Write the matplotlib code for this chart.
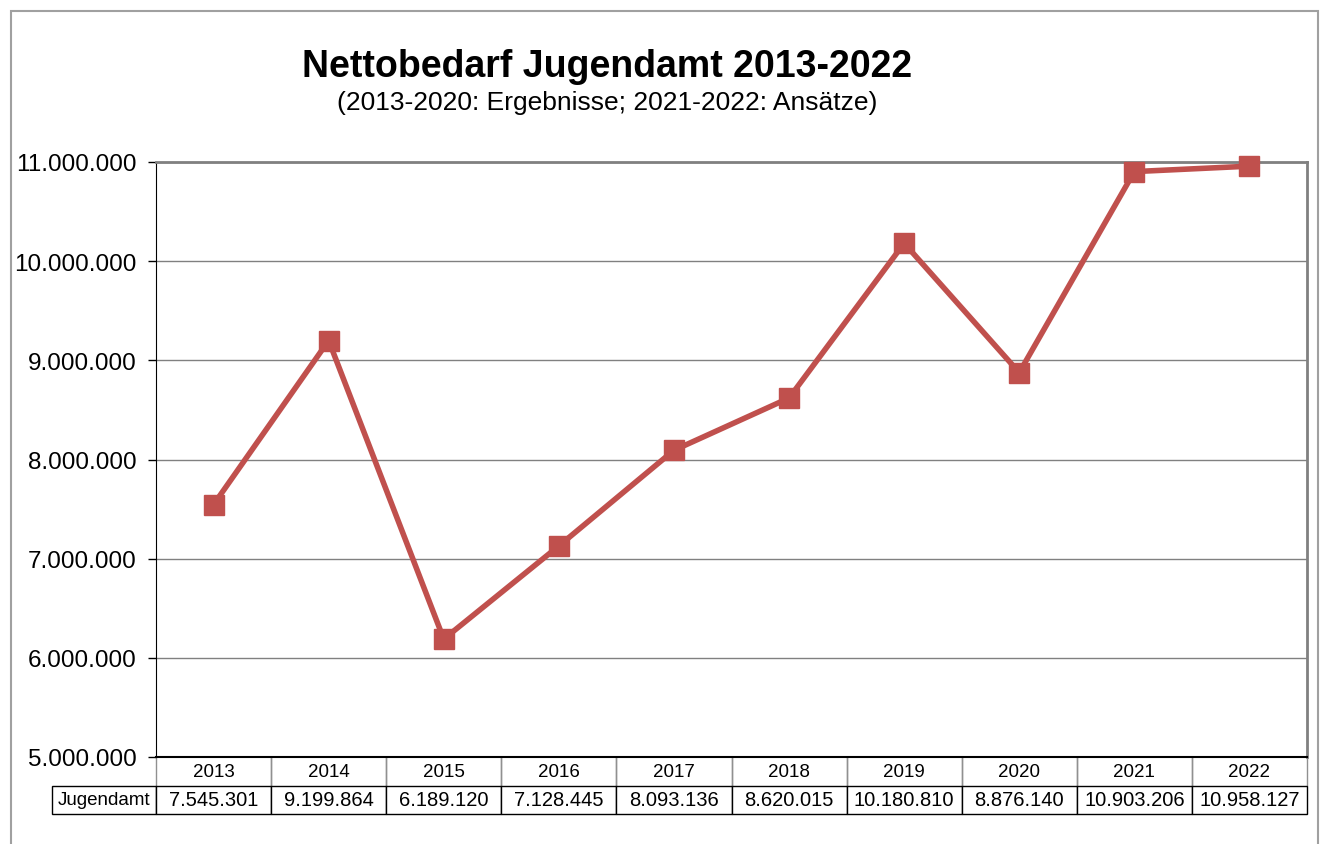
import matplotlib.pyplot as plt
from matplotlib.patches import Rectangle
from matplotlib.ticker import FuncFormatter

plt.rcParams['font.family'] = ['Liberation Sans', 'DejaVu Sans']

years = ["2013", "2014", "2015", "2016", "2017", "2018", "2019", "2020", "2021", "2022"]
jugendamt = [7545301, 9199864, 6189120, 7128445, 8093136, 8620015, 10180810, 8876140, 10903206, 10958127]
series_name = "Jugendamt"

W, H = 1323, 845
fig = plt.figure(figsize=(W / 100, H / 100), dpi=100)

# axes position in pixels
left, right, top, bottom = 156, 1307, 163, 758
ax = fig.add_axes([left / W, 1 - bottom / H, (right - left) / W, (bottom - top) / H])

red = "#C0504D"
x = list(range(len(years)))
ax.plot(x, jugendamt, color=red, linewidth=4, marker="s", markersize=14,
        markerfacecolor=red, markeredgecolor=red, zorder=5, clip_on=False)

ax.set_xlim(-0.5, len(years) - 0.5)
ax.set_ylim(5000000, 11000000)
ax.set_yticks(range(5000000, 11000001, 1000000))
ax.yaxis.set_major_formatter(FuncFormatter(lambda v, p: f"{int(v):,}".replace(",", ".")))
ax.tick_params(axis="y", labelsize=17.5, length=6, width=1, color="black", pad=8)
ax.set_xticks([])
ax.grid(axis="y", color="#808080", linewidth=1)
ax.set_axisbelow(True)

ax.spines["left"].set_color("black")
ax.spines["bottom"].set_color("black")
ax.spines["bottom"].set_linewidth(1.5)
ax.spines["top"].set_color("#808080")
ax.spines["top"].set_linewidth(2)
ax.spines["right"].set_color("#808080")
ax.spines["right"].set_linewidth(2)

# data table below the axes
fmt = lambda v: f"{v:,}".replace(",", ".")
cells = [[""] + years, [series_name] + [fmt(v) for v in jugendamt]]
axw = right - left
tab_left = 52
tab_h = 815 - bottom
lab_w = left - tab_left
tot_w = right - tab_left
col_w = [lab_w / tot_w] + [axw / 10 / tot_w] * 10
tbl = ax.table(cellText=cells, colWidths=col_w, cellLoc="center",
               bbox=[-(lab_w / axw), -(tab_h / (bottom - top)), tot_w / axw, tab_h / (bottom - top)])
tbl.auto_set_font_size(False)
for (r, c), cell in tbl.get_celld().items():
    cell.set_linewidth(1)
    if r == 0:
        cell.get_text().set_fontsize(13.5)
        cell.set_edgecolor("#909090")
        if c == 0:
            cell.visible_edges = ""
        else:
            cell.visible_edges = "LR"
    else:
        cell.get_text().set_fontsize(13.5 if c == 0 else 14.5)
        cell.set_edgecolor("black")

# titles
fig.text(607 / W, 1 - 67 / H, "Nettobedarf Jugendamt 2013-2022", ha="center", va="center",
         fontsize=27, fontweight="bold")
fig.text(607 / W, 1 - 103 / H, "(2013-2020: Ergebnisse; 2021-2022: Ansätze)", ha="center", va="center",
         fontsize=19)

# outer frame
fig.patches.append(Rectangle((11 / W, -0.05), (1318 - 11) / W, 1.05 - 12 / H, transform=fig.transFigure,
                             fill=False, edgecolor="#A0A0A0", linewidth=1.5))

fig.savefig("out.png", dpi=100)
